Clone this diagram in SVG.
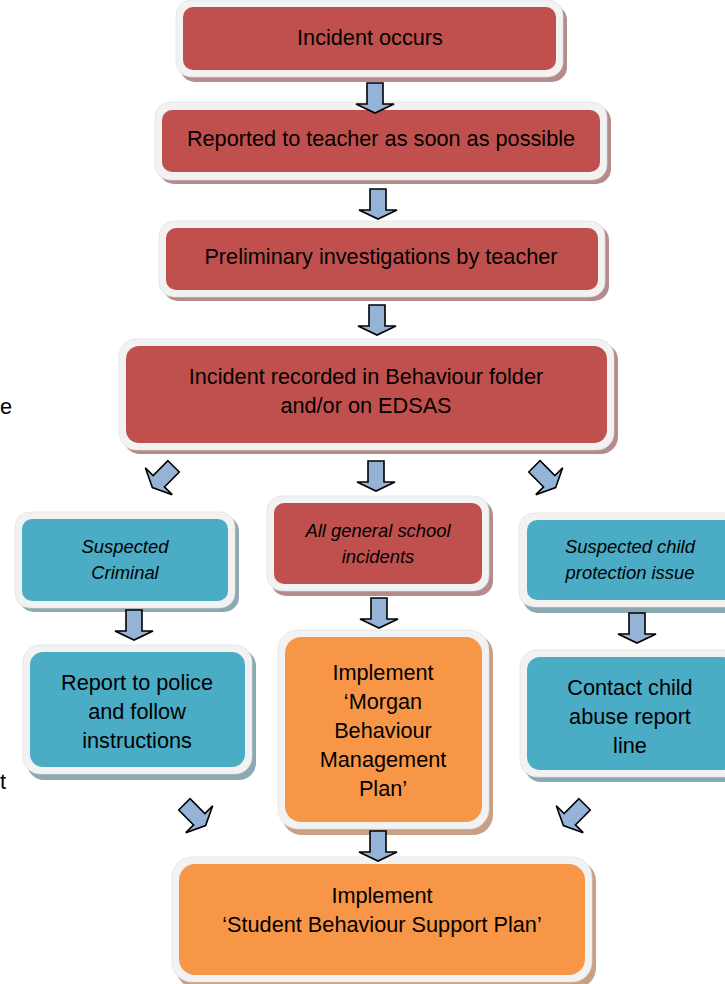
<svg xmlns="http://www.w3.org/2000/svg" xmlns:xlink="http://www.w3.org/1999/xlink" width="725" height="984" viewBox="0 0 725 984">
<defs>
<style>
text{font-family:"Liberation Sans",Arial,sans-serif;font-size:21.7px;fill:#000;text-anchor:middle}
text.it{font-style:italic;font-size:18.4px}
text.stray{text-anchor:start}
.frame{fill:#F2F2F2;stroke:#dcdcdc;stroke-width:0.6}
.red{fill:#C0504D}
.teal{fill:#4BACC6}
.orange{fill:#F79646}
.shr{fill:#B58B8B}
.sht{fill:#8CA8B0}
.sho{fill:#C9A083}
.arrow{fill:#95B3D7;stroke:#000;stroke-width:1.6;stroke-linejoin:miter}
</style>
<path id="arr" class="arrow" d="M-8,-15 H8 V6 H19 L0,15 L-19,6 H-8 Z"/>
</defs>
<rect width="725" height="984" fill="#fff"/>

<text class="stray" x="0" y="414">e</text>
<text class="stray" x="0" y="789">t</text>

<g id="n1">
<rect class="shr" x="180" y="5" width="387" height="77" rx="15"/>
<rect class="frame" x="176" y="0" width="387" height="77" rx="15"/>
<rect class="red" x="183" y="7" width="373" height="63" rx="10"/>
<text x="370" y="45">Incident occurs</text>
</g>

<g id="n2">
<rect class="shr" x="159" y="106" width="452" height="78" rx="15"/>
<rect class="frame" x="155" y="102" width="452" height="78" rx="15"/>
<rect class="red" x="162" y="110" width="438" height="62" rx="10"/>
<text x="381" y="146">Reported to teacher as soon as possible</text>
</g>

<g id="n3">
<rect class="shr" x="163" y="225" width="446" height="76" rx="15"/>
<rect class="frame" x="159" y="221" width="446" height="76" rx="15"/>
<rect class="red" x="166" y="228" width="432" height="62" rx="10"/>
<text x="381" y="264">Preliminary investigations by teacher</text>
</g>

<g id="n4">
<rect class="shr" x="123" y="343" width="495" height="111" rx="17"/>
<rect class="frame" x="119" y="339" width="495" height="111" rx="17"/>
<rect class="red" x="126" y="346" width="481" height="97" rx="13"/>
<text x="366" y="384">Incident recorded in Behaviour folder</text>
<text x="366" y="413">and/or on EDSAS</text>
</g>

<g id="n5">
<rect class="sht" x="19" y="516" width="220" height="96" rx="15"/>
<rect class="frame" x="15" y="512" width="220" height="96" rx="15"/>
<rect class="teal" x="22" y="519" width="206" height="82" rx="10"/>
<text class="it" x="125" y="553">Suspected</text>
<text class="it" x="125" y="579">Criminal</text>
</g>

<g id="n6">
<rect class="shr" x="271" y="500" width="222" height="96" rx="15"/>
<rect class="frame" x="267" y="496" width="222" height="95" rx="15"/>
<rect class="red" x="274" y="503" width="208" height="81" rx="10"/>
<text class="it" x="378" y="537">All general school</text>
<text class="it" x="378" y="563">incidents</text>
</g>

<g id="n7">
<rect class="sht" x="523" y="517" width="221" height="96" rx="15"/>
<rect class="frame" x="519" y="513" width="221" height="94" rx="15"/>
<rect class="teal" x="527" y="520" width="207" height="80" rx="10"/>
<text class="it" x="630" y="553">Suspected child</text>
<text class="it" x="630" y="579">protection issue</text>
</g>

<g id="n8">
<rect class="sht" x="27" y="649" width="229" height="131" rx="17"/>
<rect class="frame" x="23" y="645" width="229" height="129" rx="17"/>
<rect class="teal" x="30" y="652" width="215" height="115" rx="13"/>
<text x="137" y="690">Report to police</text>
<text x="137" y="719">and follow</text>
<text x="137" y="748">instructions</text>
</g>

<g id="n9">
<rect class="sho" x="282" y="634" width="211" height="201" rx="20"/>
<rect class="frame" x="278" y="630" width="211" height="199" rx="20"/>
<rect class="orange" x="285" y="637" width="197" height="185" rx="16"/>
<text x="383" y="680">Implement</text>
<text x="383" y="709">‘Morgan</text>
<text x="383" y="738">Behaviour</text>
<text x="383" y="767">Management</text>
<text x="383" y="796">Plan’</text>
</g>

<g id="n10">
<rect class="sht" x="524" y="654" width="222" height="128" rx="17"/>
<rect class="frame" x="520" y="650" width="222" height="127" rx="17"/>
<rect class="teal" x="527" y="657" width="208" height="113" rx="13"/>
<text x="630" y="695">Contact child</text>
<text x="630" y="724">abuse report</text>
<text x="630" y="753">line</text>
</g>

<g id="n11">
<rect class="sho" x="176" y="861" width="420" height="127" rx="20"/>
<rect class="frame" x="172" y="857" width="420" height="125" rx="20"/>
<rect class="orange" x="179" y="864" width="406" height="111" rx="16"/>
<text x="382" y="903">Implement</text>
<text x="382" y="932">‘Student Behaviour Support Plan’</text>
</g>

<g id="connectors">
<use xlink:href="#arr" transform="translate(375,98)"/>
<use xlink:href="#arr" transform="translate(378,204)"/>
<use xlink:href="#arr" transform="translate(377,320)"/>
<use xlink:href="#arr" transform="translate(376,476)"/>
<use xlink:href="#arr" transform="translate(163,477) rotate(45)"/>
<use xlink:href="#arr" transform="translate(545,477) rotate(-45)"/>
<use xlink:href="#arr" transform="translate(134,625)"/>
<use xlink:href="#arr" transform="translate(379,613)"/>
<use xlink:href="#arr" transform="translate(637,628)"/>
<use xlink:href="#arr" transform="translate(195,815) rotate(-45)"/>
<use xlink:href="#arr" transform="translate(574,815) rotate(45)"/>
<use xlink:href="#arr" transform="translate(378,846)"/>
</g>
</svg>
